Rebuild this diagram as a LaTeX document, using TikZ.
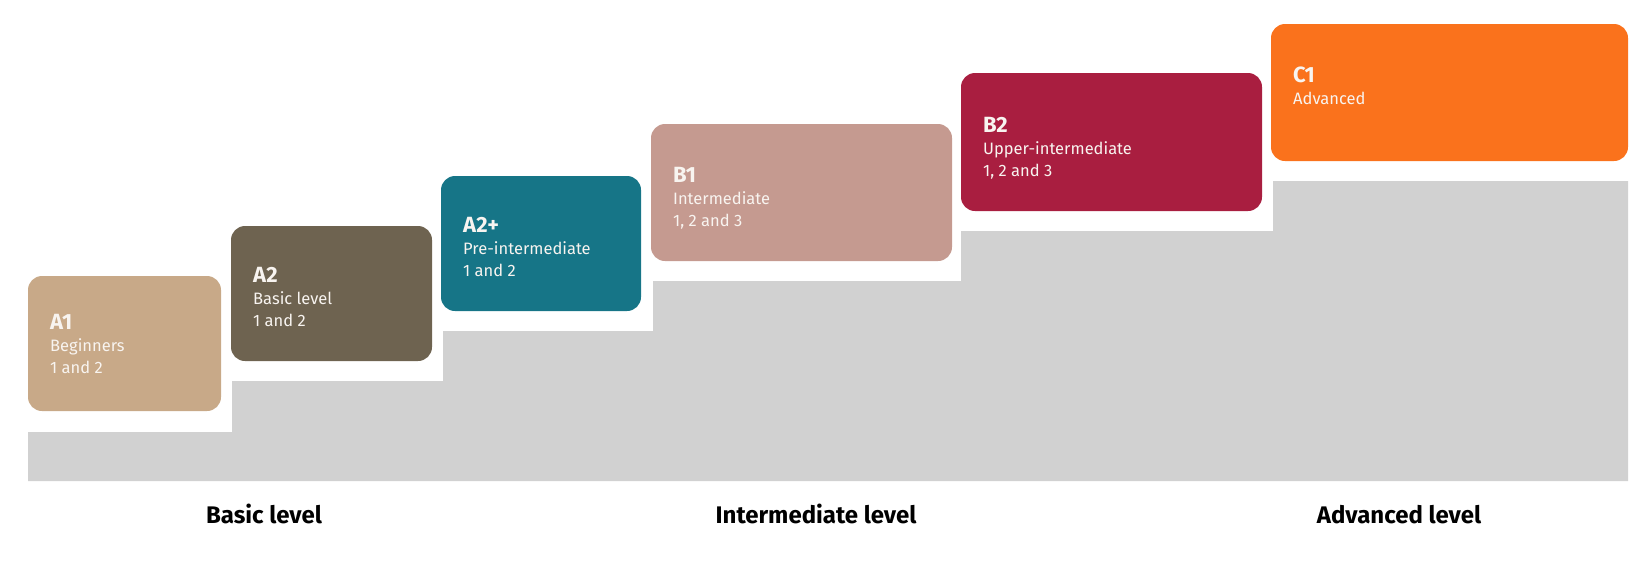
\documentclass[tikz,border=0pt]{standalone}
\usepackage{fontspec}
\setmainfont{Fira Sans}
\definecolor{cA1}{HTML}{C8A988}
\definecolor{cA2}{HTML}{6E6350}
\definecolor{cA2p}{HTML}{167587}
\definecolor{cB1}{HTML}{C59A90}
\definecolor{cB2}{HTML}{A91E40}
\definecolor{cC1}{HTML}{FA721C}
\definecolor{stairgray}{HTML}{D1D1D1}
\definecolor{boxtext}{HTML}{F8F4F0}
\tikzset{
  levelbox/.style={draw=none, rounded corners=14pt, inner sep=0pt, outer sep=0pt, anchor=north west},
  boxtitle/.style={anchor=base west, inner sep=0pt, text=boxtext, font=\fontsize{22}{22}\selectfont\bfseries},
  boxsub/.style={anchor=base west, inner sep=0pt, text=boxtext, font=\fontsize{16.5}{16.5}\selectfont},
  bandlabel/.style={anchor=base, inner sep=0pt, text=black, font=\fontsize{24}{24}\selectfont\bfseries},
}
\begin{document}
\begin{tikzpicture}[x=1pt,y=-1pt]
\useasboundingbox (0,0) rectangle (1642,563);
% stairs
\fill[stairgray] (28,481) -- (28,432) -- (232,432) -- (232,381) -- (443,381) -- (443,331)
  -- (653,331) -- (653,281) -- (961,281) -- (961,231) -- (1273,231) -- (1273,181)
  -- (1628,181) -- (1628,481) -- cycle;
% boxes
\node[levelbox, fill=cA1, minimum width=193pt, minimum height=135pt] (a1) at (28,276) {};
\node[levelbox, fill=cA2, minimum width=201pt, minimum height=135pt] (a2) at (231,226) {};
\node[levelbox, fill=cA2p, minimum width=200pt, minimum height=135pt] (a2p) at (441,176) {};
\node[levelbox, fill=cB1, minimum width=301pt, minimum height=137pt] (b1) at (651,124) {};
\node[levelbox, fill=cB2, minimum width=301pt, minimum height=138pt] (b2) at (961,73) {};
\node[levelbox, fill=cC1, minimum width=357pt, minimum height=137pt] (c1) at (1271,24) {};
% texts
\node[boxtitle] (a1t) at ([xshift=22pt,yshift=-53pt]a1.north west) {A1};
\node[boxsub] (a1s1) at ([yshift=-22pt]a1t.base west) {Beginners};
\node[boxsub] (a1s2) at ([yshift=-44pt]a1t.base west) {1 and 2};

\node[boxtitle] (a2t) at ([xshift=22pt,yshift=-56pt]a2.north west) {A2};
\node[boxsub] (a2s1) at ([yshift=-22pt]a2t.base west) {Basic level};
\node[boxsub] (a2s2) at ([yshift=-44pt]a2t.base west) {1 and 2};

\node[boxtitle] (a2pt) at ([xshift=22pt,yshift=-56pt]a2p.north west) {A2+};
\node[boxsub] (a2ps1) at ([yshift=-22pt]a2pt.base west) {Pre-intermediate};
\node[boxsub] (a2ps2) at ([yshift=-44pt]a2pt.base west) {1 and 2};

\node[boxtitle] (b1t) at ([xshift=22pt,yshift=-58pt]b1.north west) {B1};
\node[boxsub] (b1s1) at ([yshift=-22pt]b1t.base west) {Intermediate};
\node[boxsub] (b1s2) at ([yshift=-44pt]b1t.base west) {1, 2 and 3};

\node[boxtitle] (b2t) at ([xshift=22pt,yshift=-59pt]b2.north west) {B2};
\node[boxsub] (b2s1) at ([yshift=-22pt]b2t.base west) {Upper-intermediate};
\node[boxsub] (b2s2) at ([yshift=-44pt]b2t.base west) {1, 2 and 3};

\node[boxtitle] (c1t) at ([xshift=22pt,yshift=-58pt]c1.north west) {C1};
\node[boxsub] (c1s1) at ([yshift=-22pt]c1t.base west) {Advanced};
% band labels
\node[bandlabel] (basic) at (264,523) {Basic level};
\node[bandlabel] (inter) at (816,523) {Intermediate level};
\node[bandlabel] (adv) at (1399,523) {Advanced level};
\end{tikzpicture}
\end{document}
